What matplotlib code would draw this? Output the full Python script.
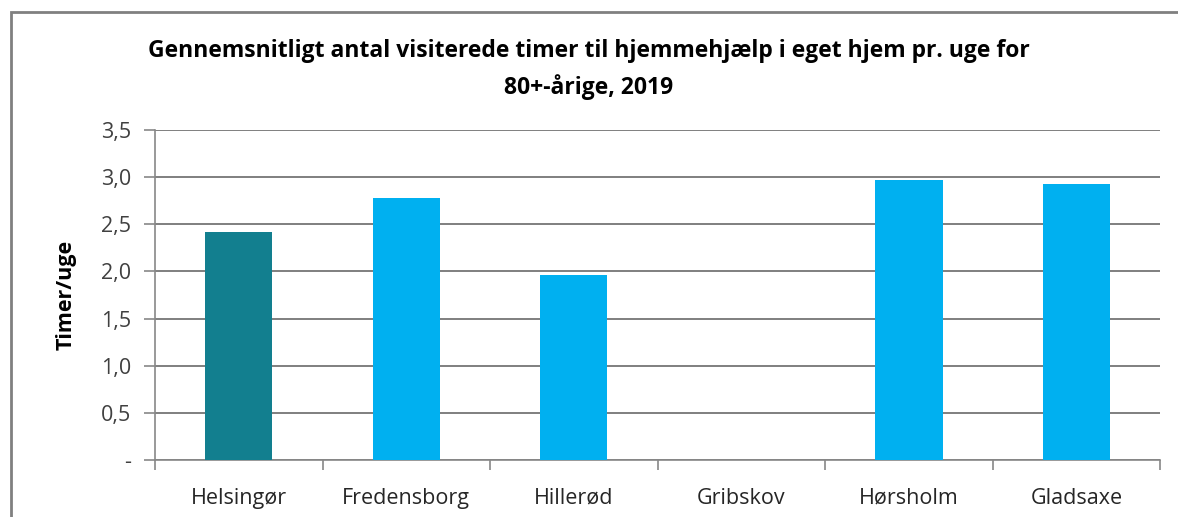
import matplotlib.pyplot as plt
from matplotlib.patches import Rectangle

# Data
kommuner = ['Helsingør', 'Fredensborg', 'Hillerød', 'Gribskov', 'Hørsholm', 'Gladsaxe']
timer = [2.42, 2.78, 1.96, 0.0, 2.97, 2.93]
farver = ['#127f8f', '#00b0f0', '#00b0f0', '#00b0f0', '#00b0f0', '#00b0f0']
yticks = [0, 0.5, 1.0, 1.5, 2.0, 2.5, 3.0, 3.5]
ylabels = ['-', '0,5', '1,0', '1,5', '2,0', '2,5', '3,0', '3,5']

plt.rcParams['font.family'] = ['Open Sans', 'DejaVu Sans']

fig = plt.figure(figsize=(11.78, 5.17), dpi=100)
ax = fig.add_axes([0.1316, 0.1103, 0.8534, 0.6382])

x = range(len(kommuner))
ax.bar(x, timer, width=0.4, color=farver, zorder=3)

ax.set_xlim(-0.5, len(kommuner) - 0.5)
ax.set_ylim(0, 3.5)
ax.set_yticks(yticks)
ax.set_yticklabels(ylabels, fontsize=15.5, color='#404040')
ax.set_xticks(list(x))
ax.set_xticklabels(kommuner, fontsize=15.5, color='#262626')
ax.tick_params(axis='x', length=0, pad=20)
ax.tick_params(axis='y', length=8, width=1.2, color='#888888', pad=9)
ax.set_xticks([i - 0.5 for i in range(len(kommuner) + 1)], minor=True)
ax.tick_params(axis='x', which='minor', length=7, width=1.2, color='#888888')

ax.grid(axis='y', color='#7f7f7f', linewidth=1.4, zorder=0)
for s in ['top', 'right']:
    ax.spines[s].set_visible(False)
for s in ['left', 'bottom']:
    ax.spines[s].set_color('#888888')
    ax.spines[s].set_linewidth(1.2)

ax.set_ylabel('Timer/uge', fontsize=15.5, fontweight='bold', labelpad=18)

fig.text(0.5, 0.866, 'Gennemsnitligt antal visiterede timer til hjemmehjælp i eget hjem pr. uge for\n80+-årige, 2019',
         ha='center', va='center', fontsize=16.5, fontweight='bold', linespacing=1.55)

# frame
fig.patches.append(Rectangle((0.009, -0.05), 1.2, 1.027, transform=fig.transFigure,
                             fill=False, edgecolor='#808080', linewidth=2))

fig.savefig('out.png', dpi=100)
